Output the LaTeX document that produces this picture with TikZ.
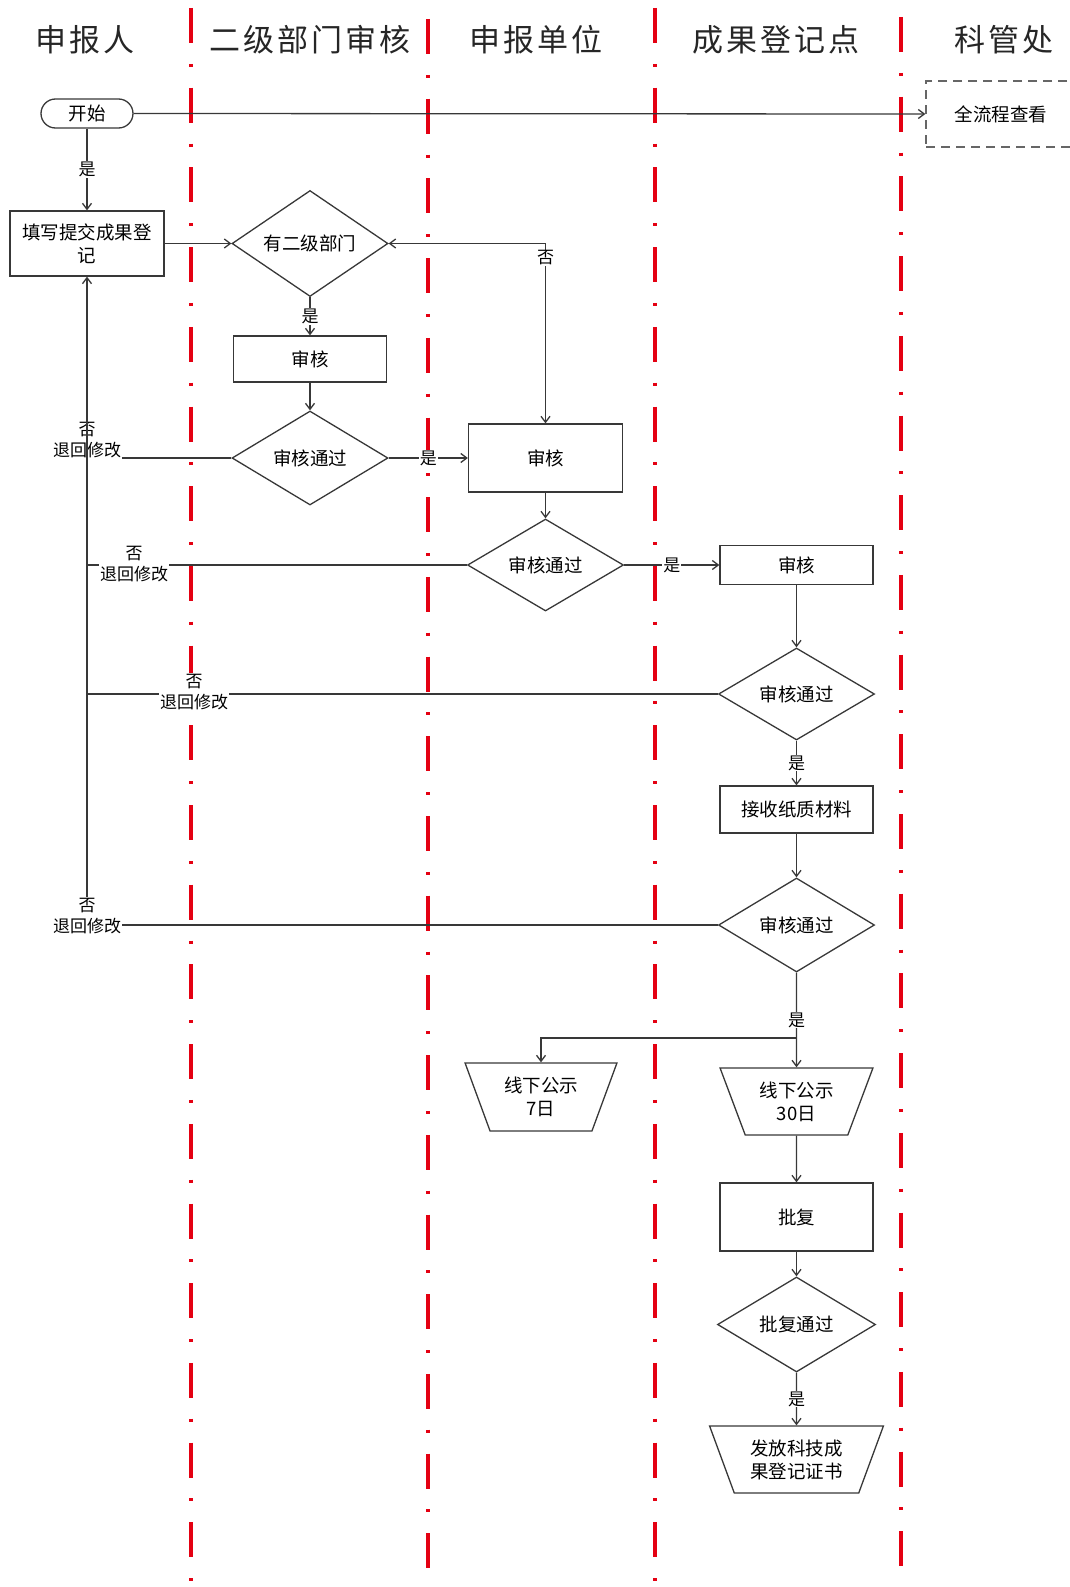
\documentclass[tikz,border=0pt]{standalone}
\usepackage{fontspec}
\setmainfont{Noto Sans CJK SC}
\usetikzlibrary{shapes.geometric,arrows.meta}
\definecolor{lanered}{RGB}{228,0,18}

\begin{document}
\begin{tikzpicture}[x=1pt,y=-1pt,>={Straight Barb[length=6pt,width=9pt]},
    flow/.style={draw=black!78,line width=1.3pt},
    box/.style={flow,fill=white,minimum width=153pt,inner sep=2pt,align=center,
        font=\fontsize{18.5}{23}\selectfont},
    decide/.style={box,diamond,aspect=1.65,inner sep=0pt,minimum width=156pt,minimum height=94pt},
    shout/.style={box,trapezium,shape border rotate=180,trapezium angle=66,
        trapezium stretches=true,inner sep=1pt,minimum height=67pt},
    lbl/.style={fill=white,inner sep=1pt,align=center,font=\fontsize{17}{21}\selectfont},
    lane/.style={lanered,line width=4pt,dash pattern=on 35pt off 20.8pt on 3pt off 20.9pt},
    title/.style={font=\fontsize{31}{31}\selectfont\addfontfeature{LetterSpace=10},text=black!85}]
    \useasboundingbox (0,0) rectangle (1070,1587);

    \foreach \x/\y in {191/8,428/19,655/8,901/17}
        \draw[lane] (\x,\y) -- (\x,1600);

    \node[title] at (85,40) {申报人};
    \node[title] at (310,40) {二级部门审核};
    \node[title] at (536,40) {申报单位};
    \node[title] at (776,40) {成果登记点};
    \node[title] at (1004,40) {科管处};

    \node[box,rounded corners=14.5pt,minimum width=92pt,minimum height=29pt,inner sep=0pt] (start) at (87,113.5) {开始};
    \node[box,draw=black!60,dash pattern=on 9pt off 6pt,minimum width=150pt,minimum height=66pt] (view) at (1001,114) {全流程查看};
    \node[box,minimum width=154pt,minimum height=65pt] (submit) at (87,243.5) {填写提交成果登\\记};
    \node[decide,minimum height=106pt] (hasdept) at (310,243.5) {有二级部门};
    \node[box,minimum height=46pt] (deptcheck) at (310,359) {审核};
    \node[decide] (deptok) at (310,458) {审核通过};
    \node[box,minimum width=154pt,minimum height=68pt] (unitcheck) at (545.5,458) {审核};
    \node[decide,minimum height=92pt] (unitok) at (545.5,565) {审核通过};
    \node[box,minimum height=39pt] (regcheck) at (796.5,565) {审核};
    \node[decide,minimum height=92pt] (regok) at (796.5,694) {审核通过};
    \node[box,minimum height=47pt] (paper) at (796.5,809.5) {接收纸质材料};
    \node[decide] (paperok) at (796.5,925) {审核通过};
    \node[shout,minimum width=152pt,minimum height=68pt] (pub7) at (541,1097) {线下公示\\7日};
    \node[shout,minimum width=153pt] (pub30) at (796.5,1101.5) {线下公示\\30日};
    \node[box,minimum height=68pt] (approve) at (796.5,1217) {批复};
    \node[decide,minimum width=158pt,minimum height=95pt] (approveok) at (796.5,1324.5) {批复通过};
    \node[shout,minimum width=174pt] (cert) at (796.5,1459.5) {发放科技成\\果登记证书};

    \draw[flow,->] (start.south) -- (submit.north) node[lbl,midway] {是};
    \draw[flow,->] (start.east) -- (view.west);
    \draw[flow,->] (submit.east) -- (hasdept.west);
    \draw[flow,<->] (hasdept.east) -| (unitcheck.north) node[lbl,pos=0.54] {否};
    \draw[flow,->] (hasdept.south) -- (deptcheck.north) node[lbl,midway] {是};
    \draw[flow,->] (deptcheck.south) -- (deptok.north);
    \draw[flow,->] (deptok.east) -- (unitcheck.west) node[lbl,midway] {是};
    \draw[flow,->] (unitcheck.south) -- (unitok.north);
    \draw[flow,->] (unitok.east) -- (regcheck.west) node[lbl,midway] {是};
    \draw[flow,->] (regcheck.south) -- (regok.north);
    \draw[flow,->] (regok.south) -- (paper.north) node[lbl,midway] {是};
    \draw[flow,->] (paper.south) -- (paperok.north);
    \draw[flow,->] (paperok.south) -- (pub30.north) node[lbl,midway] {是};
    \coordinate (split) at (796.5,1038);
    \draw[flow,->] (split) -| (pub7.north);
    \draw[flow,->] (pub30.south) -- (approve.north);
    \draw[flow,->] (approve.south) -- (approveok.north);
    \draw[flow,->] (approveok.south) -- (cert.north) node[lbl,midway] {是};

    \node[lbl,fill=none] (back1) at (87,440.5) {否\\退回修改};
    \node[lbl] (back4) at (87,916) {否\\退回修改};
    \draw[flow] (deptok.west) -- (deptok.west -| back1.east);
    \draw[flow] (unitok.west) -- (unitok.west -| submit.south);
    \draw[flow] (regok.west) -- (regok.west -| submit.south);
    \draw[flow] (paperok.west) -- (paperok.west -| back4.east);
    \node[lbl] (back2) at (134,564) {否\\退回修改};
    \node[lbl] (back3) at (194,692) {否\\退回修改};
    \draw[flow,->] (back4.north) -- (submit.south);
\end{tikzpicture}
\end{document}
